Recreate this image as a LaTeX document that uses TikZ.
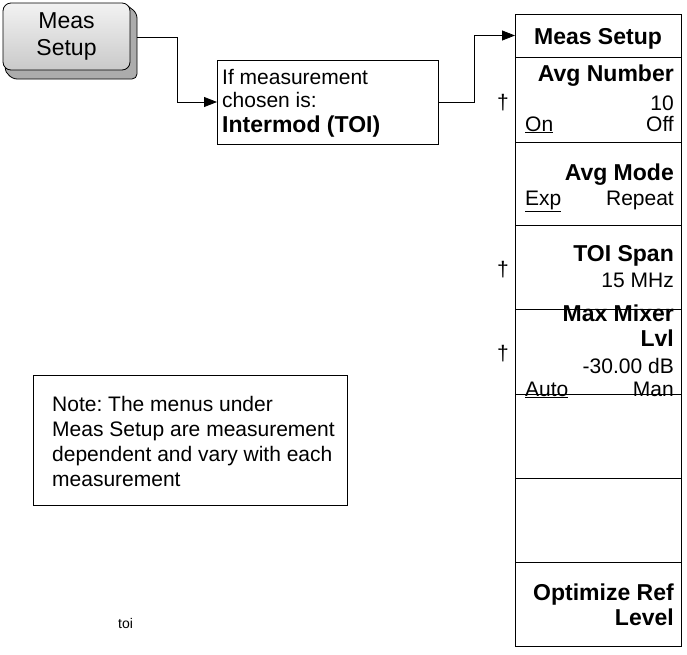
\documentclass[tikz,border=0pt]{standalone}
\usepackage{fontspec}
\setmainfont{Liberation Sans}
\frenchspacing
\usetikzlibrary{arrows.meta,calc}
\tikzset{
  conn/.style={line width=0.8pt,-{Triangle[length=13pt,width=10pt]}},
  menurow/.style={draw, line width=0.8pt, minimum width=166pt, inner sep=0pt, outer sep=0pt},
  boxed/.style={draw, line width=0.8pt, inner sep=0pt, outer sep=0pt},
  bl/.style={font=\fontsize{23}{25}\selectfont\bfseries, inner sep=0pt, anchor=base east},
  rl/.style={font=\fontsize{21}{25}\selectfont, inner sep=0pt, anchor=base east},
  ll/.style={font=\fontsize{21}{25}\selectfont, inner sep=0pt, anchor=base west},
  dag/.style={font=\fontsize{21}{25}\selectfont, inner sep=0pt, anchor=center},
  notetext/.style={font=\fontsize{21}{25}\selectfont, inner sep=0pt, anchor=base west}
}
\begin{document}
\begin{tikzpicture}[x=1pt,y=-1pt]
\useasboundingbox (0,0) rectangle (687,654);
% key: extruded side
\filldraw[line width=0.8pt, fill=gray!65, rounded corners=5pt]
  (124,3) -- (137,13) -- (137,79) -- (12,79) -- (3,68) -- cycle;
\node[draw, line width=0.8pt, top color=gray!10, bottom color=gray!42, rounded corners=8pt, minimum width=127pt, minimum height=67pt, inner sep=0pt, outer sep=0pt, align=center, font=\fontsize{23}{27}\selectfont] (key) at (66.5,36.5) {Meas\\Setup};
\coordinate (keyside) at (137,37);
% condition box
\node[boxed, minimum width=221pt, minimum height=84pt] (cond) at (327.5,102) {};
\node[notetext] (c1t) at (222,84) {If measurement};
\node[notetext] (c2t) at (222,107.5) {chosen is:};
\node[font=\fontsize{23}{23.5}\selectfont\bfseries, inner sep=0pt, anchor=base west] (c3t) at (222,132) {Intermod (TOI)};
% menu rows
\node[menurow, minimum height=43pt] (m0) at (598,35.5) {};
\node[menurow, minimum height=85pt] (m1) at (598,99.5) {};
\node[menurow, minimum height=83pt] (m2) at (598,183.5) {};
\node[menurow, minimum height=84pt] (m3) at (598,267) {};
\node[menurow, minimum height=85pt] (m4) at (598,351.5) {};
\node[menurow, minimum height=84pt] (m5) at (598,436) {};
\node[menurow, minimum height=84pt] (m6) at (598,520) {};
\node[menurow, minimum height=84pt] (m7) at (598,604) {};
% connectors
\coordinate (j1) at (177,37);
\coordinate (j2) at (474,102);
\draw[conn] (keyside) -- (j1) |- (cond.west);
\draw[conn] (cond.east) -- (j2) |- (m0.west);
% menu texts
\node[font=\fontsize{23}{25}\selectfont\bfseries, inner sep=0pt, anchor=base] (t0) at (598,44) {Meas Setup};
\node[bl] (t1a) at (674,81) {Avg Number};
\node[rl] (t1b) at (674,110) {10};
\node[ll] (t1c) at (525,131) {\underline{On}};
\node[rl] (t1d) at (674,131) {Off};
\node[bl] (t2a) at (674,180) {Avg Mode};
\node[ll] (t2b) at (525,205) {\underline{Exp}};
\node[rl] (t2c) at (674,205) {Repeat};
\node[bl] (t3a) at (674,261) {TOI Span};
\node[rl] (t3b) at (674,287) {15 MHz};
\node[bl] (t4a) at (674,321) {Max Mixer};
\node[bl] (t4b) at (674,346) {Lvl};
\node[rl] (t4c) at (674,373) {-30.00 dB};
\node[ll] (t4d) at (525,396) {\underline{Auto}};
\node[rl] (t4e) at (674,396) {Man};
\node[bl] (t7a) at (674,600) {Optimize Ref};
\node[bl] (t7b) at (674,625) {Level};
% daggers
\node[dag] (d1) at (503,103) {†};
\node[dag] (d2) at (503,270) {†};
\node[dag] (d3) at (503,354) {†};
% note
\node[boxed, minimum width=314pt, minimum height=130pt] (note) at (190,440) {};
\node[notetext] (n1) at (52,411) {Note: The menus under};
\node[notetext] (n2) at (52,436) {Meas Setup are measurement};
\node[notetext] (n3) at (52,461) {dependent and vary with each};
\node[notetext] (n4) at (52,486) {measurement};
\node[font=\fontsize{14}{16}\selectfont, inner sep=0pt, anchor=base west] (toi) at (118,628) {toi};
\end{tikzpicture}
\end{document}
